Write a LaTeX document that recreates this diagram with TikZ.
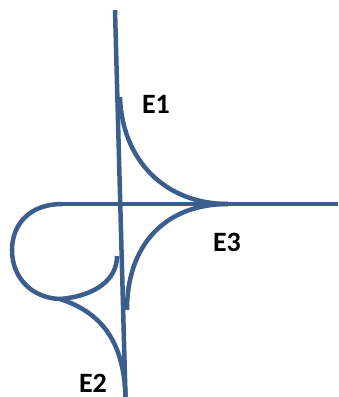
\documentclass[tikz,border=0pt]{standalone}
\usepackage{fontspec}
\setmainfont{Carlito}
\definecolor{curveblue}{RGB}{59,94,140}
\begin{document}
\begin{tikzpicture}[x=1pt,y=-1pt,
  curve/.style={draw=curveblue,line width=4.5pt},
  lbl/.style={font=\fontsize{28}{32}\selectfont\bfseries,inner sep=0pt}]
\useasboundingbox (0,0) rectangle (338,397);
% axes
\draw[curve] (115,10) -- (125.5,397);
\draw[curve] (60,204) -- (338,204);
% E1
\draw[curve] (120,97) .. controls (122,160) and (165,204) .. (228,204);
% E3
\draw[curve] (228,204) .. controls (165,204) and (127,245) .. (127,310);
% left loop
\draw[curve] (62,204) .. controls (30,204) and (12,224) .. (12,250)
  .. controls (12,278) and (32,298) .. (60,299);
\draw[curve] (60,299) .. controls (95,296) and (117,280) .. (117,256);
% E2
\draw[curve] (60,299) .. controls (100,312) and (124,340) .. (125.5,397);
% labels
\node[lbl] (e1) at (156,104) {E1};
\node[lbl] (e2) at (93,383) {E2};
\node[lbl] (e3) at (227,242) {E3};
\end{tikzpicture}
\end{document}
